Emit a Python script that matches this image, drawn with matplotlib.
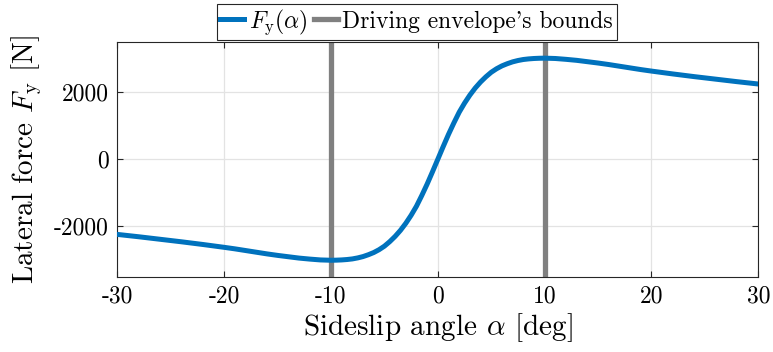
import matplotlib
matplotlib.use("Agg")
import matplotlib.pyplot as plt

# lateral tyre force vs. sideslip angle, positive half (curve is odd-symmetric)
alpha_pos = [0, 0.5, 1, 1.5, 2, 2.5, 3, 3.5, 4, 4.5, 5, 5.5, 6, 6.5, 7, 7.5, 8, 8.5, 9, 9.5,
             10, 11, 12, 13, 14, 15, 16, 17, 18, 19, 20, 22, 24, 26, 28, 30]
fy_pos = [0, 375, 740, 1080, 1400, 1670, 1910, 2120, 2300, 2455, 2590, 2695, 2780, 2845,
          2900, 2940, 2970, 2988, 3000, 3007,
          3010, 3000, 2975, 2945, 2905, 2865, 2820, 2770, 2720, 2670, 2625, 2540, 2460,
          2385, 2310, 2240]

alpha_deg = [-a for a in alpha_pos[:0:-1]] + alpha_pos
fy = [-v for v in fy_pos[:0:-1]] + fy_pos

# driving envelope limits
bounds = [-10, 10]

plt.rcParams["font.family"] = "cmr10"
plt.rcParams["mathtext.fontset"] = "cm"
plt.rcParams["axes.unicode_minus"] = False
plt.rcParams["font.size"] = 16

fig = plt.figure(figsize=(7.73, 3.52), dpi=100)
ax = fig.add_axes([0.1518, 0.2139, 0.8292, 0.6676])

ax.plot(alpha_deg, fy, color="#0072BD", lw=3.6, label=r"$F_\mathrm{y}(\alpha)$",
        zorder=3, solid_joinstyle="round")
for i, b in enumerate(bounds):
    ax.axvline(b, color="#808080", lw=3.8, zorder=2,
               label="Driving envelope's bounds" if i == 0 else None)

ax.set_xlim(-30, 30)
ax.set_ylim(-3500, 3500)
ax.set_xticks([-30, -20, -10, 0, 10, 20, 30])
ax.set_yticks([-2000, 0, 2000])
ax.grid(True, color="#e3e3e3", lw=0.9)
ax.set_axisbelow(True)
ax.tick_params(direction="in", top=True, right=True, length=4, width=0.8,
               color="#262626", labelsize=17, pad=6)
for s in ax.spines.values():
    s.set_color("#262626")
    s.set_linewidth(0.8)

ax.set_xlabel(r"Sideslip angle $\alpha$ [deg]", fontsize=21, labelpad=3)
ax.set_ylabel(r"Lateral force $F_\mathrm{y}$ [N]", fontsize=21, labelpad=7)

leg = fig.legend(loc="upper center", bbox_to_anchor=(0.539, 0.99), ncol=2,
                 handlelength=1.0, handletextpad=0.2, columnspacing=0.3,
                 borderpad=0.15, fontsize=17, fancybox=False, framealpha=1,
                 borderaxespad=0)
leg.get_frame().set_edgecolor("#262626")
leg.get_frame().set_linewidth(0.8)

fig.savefig("out.png", dpi=100)
